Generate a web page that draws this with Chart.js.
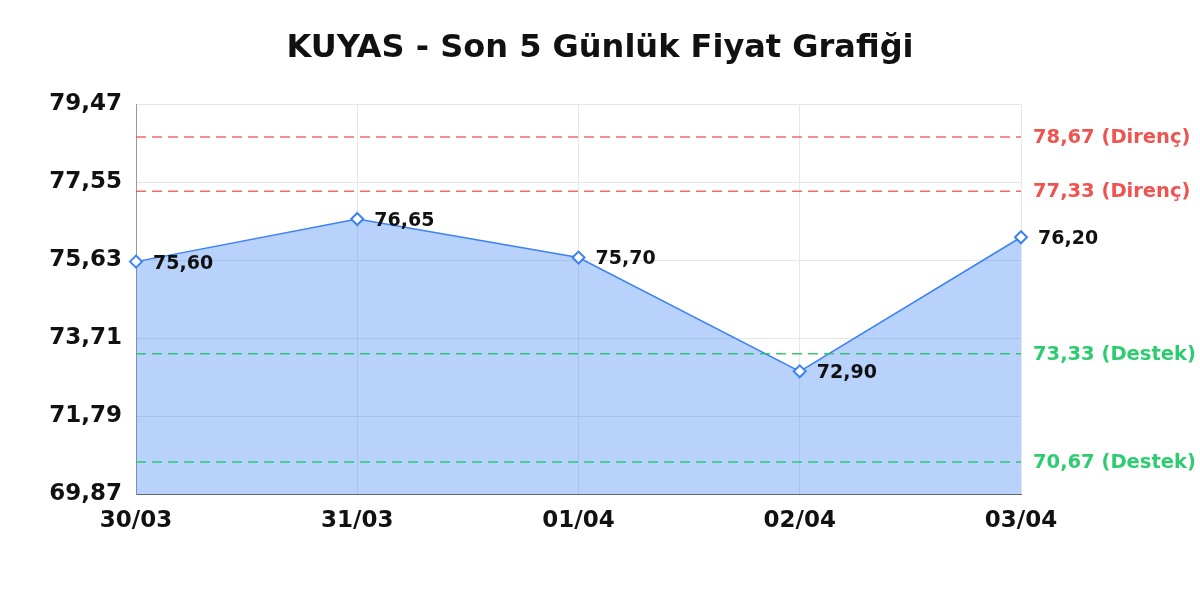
<!DOCTYPE html>
<html lang="tr">
<head>
    <meta charset="UTF-8">
    <title>KUYAS - Son 5 Günlük Fiyat Grafiği</title>
    <script src="https://cdn.jsdelivr.net/npm/chart.js@4.4.0/dist/chart.umd.min.js"></script>
    <style>
        * { margin: 0; padding: 0; box-sizing: border-box; }
        body { background: #ffffff; width: 1200px; height: 600px; overflow: hidden; }
        #priceChart { display: block; }
    </style>
</head>
<body>
    <canvas id="priceChart" width="1200" height="600"></canvas>

    <script>
        const days = ['30/03', '31/03', '01/04', '02/04', '03/04'];
        const prices = [75.60, 76.65, 75.70, 72.90, 76.20];
        const yTicks = [69.87, 71.79, 73.71, 75.63, 77.55, 79.47];

        const resistance = [78.67, 77.33];
        const support = [73.33, 70.67];

        const fmt = v => v.toFixed(2).replace('.', ',');

        function levelDataset(value, color) {
            return {
                data: days.map(() => value),
                borderColor: color,
                borderWidth: 1.5,
                borderDash: [10, 6],
                pointRadius: 0,
                fill: false,
                order: 1
            };
        }

        // labels next to the points and the support / resistance levels
        const labelPlugin = {
            id: 'labels',
            afterDatasetsDraw(chart) {
                const ctx = chart.ctx;
                const y = chart.scales.y;
                const area = chart.chartArea;
                ctx.save();
                ctx.textBaseline = 'middle';
                ctx.textAlign = 'left';

                ctx.font = 'bold 19px "DejaVu Sans"';
                ctx.fillStyle = '#111111';
                chart.getDatasetMeta(0).data.forEach((pt, i) => {
                    ctx.fillText(fmt(prices[i]), pt.x + 17, pt.y + 2);
                });

                ctx.font = 'bold 19.5px "DejaVu Sans"';
                resistance.forEach(v => {
                    ctx.fillStyle = '#ef5350';
                    ctx.fillText(fmt(v) + ' (Direnç)', area.right + 12, y.getPixelForValue(v) + 1);
                });
                support.forEach(v => {
                    ctx.fillStyle = '#2ecc71';
                    ctx.fillText(fmt(v) + ' (Destek)', area.right + 12, y.getPixelForValue(v) + 1);
                });
                ctx.restore();
            }
        };

        new Chart(document.getElementById('priceChart'), {
            type: 'line',
            data: {
                labels: days,
                datasets: [
                    {
                        data: prices,
                        borderColor: '#3b82f6',
                        borderWidth: 1.5,
                        backgroundColor: 'rgba(59, 130, 246, 0.36)',
                        fill: 'start',
                        tension: 0,
                        pointStyle: 'rectRot',
                        pointRadius: 6,
                        pointBorderWidth: 2,
                        pointBackgroundColor: '#ffffff',
                        pointBorderColor: '#3b82f6',
                        order: 2
                    },
                    levelDataset(resistance[0], 'rgba(239, 68, 68, 0.8)'),
                    levelDataset(resistance[1], 'rgba(239, 68, 68, 0.8)'),
                    levelDataset(support[0], 'rgba(34, 197, 94, 0.9)'),
                    levelDataset(support[1], 'rgba(34, 197, 94, 0.9)')
                ]
            },
            options: {
                responsive: false,
                animation: false,
                layout: { padding: { left: 0, right: 0, top: 0, bottom: 52 } },
                plugins: {
                    legend: { display: false },
                    tooltip: { enabled: false },
                    title: {
                        display: true,
                        text: 'KUYAS - Son 5 Günlük Fiyat Grafiği',
                        color: '#111111',
                        font: { family: 'DejaVu Sans', size: 32, weight: 'bold' },
                        padding: { top: 29, bottom: 37 }
                    }
                },
                scales: {
                    x: {
                        offset: false,
                        grid: { color: '#e6e6e6', drawTicks: false },
                        border: { color: '#666666' },
                        ticks: {
                            color: '#111111',
                            padding: 13,
                            maxRotation: 0,
                            font: { family: 'DejaVu Sans', size: 23, weight: 'bold' }
                        }
                    },
                    y: {
                        min: yTicks[0],
                        max: yTicks[yTicks.length - 1],
                        afterBuildTicks(scale) {
                            scale.ticks = yTicks.map(v => ({ value: v }));
                        },
                        afterFit(scale) { scale.width = 136; },
                        grid: { color: '#e6e6e6', drawTicks: false },
                        border: { color: '#999999' },
                        ticks: {
                            color: '#111111',
                            padding: 14,
                            callback: v => fmt(v),
                            font: { family: 'DejaVu Sans', size: 23, weight: 'bold' }
                        }
                    },
                    // empty right axis that keeps room for the level labels
                    yRight: {
                        position: 'right',
                        min: yTicks[0],
                        max: yTicks[yTicks.length - 1],
                        grid: { display: false, drawTicks: false },
                        border: { display: false },
                        ticks: { display: false },
                        afterFit(scale) { scale.width = 179; }
                    }
                }
            },
            plugins: [labelPlugin]
        });
    </script>
</body>
</html>
